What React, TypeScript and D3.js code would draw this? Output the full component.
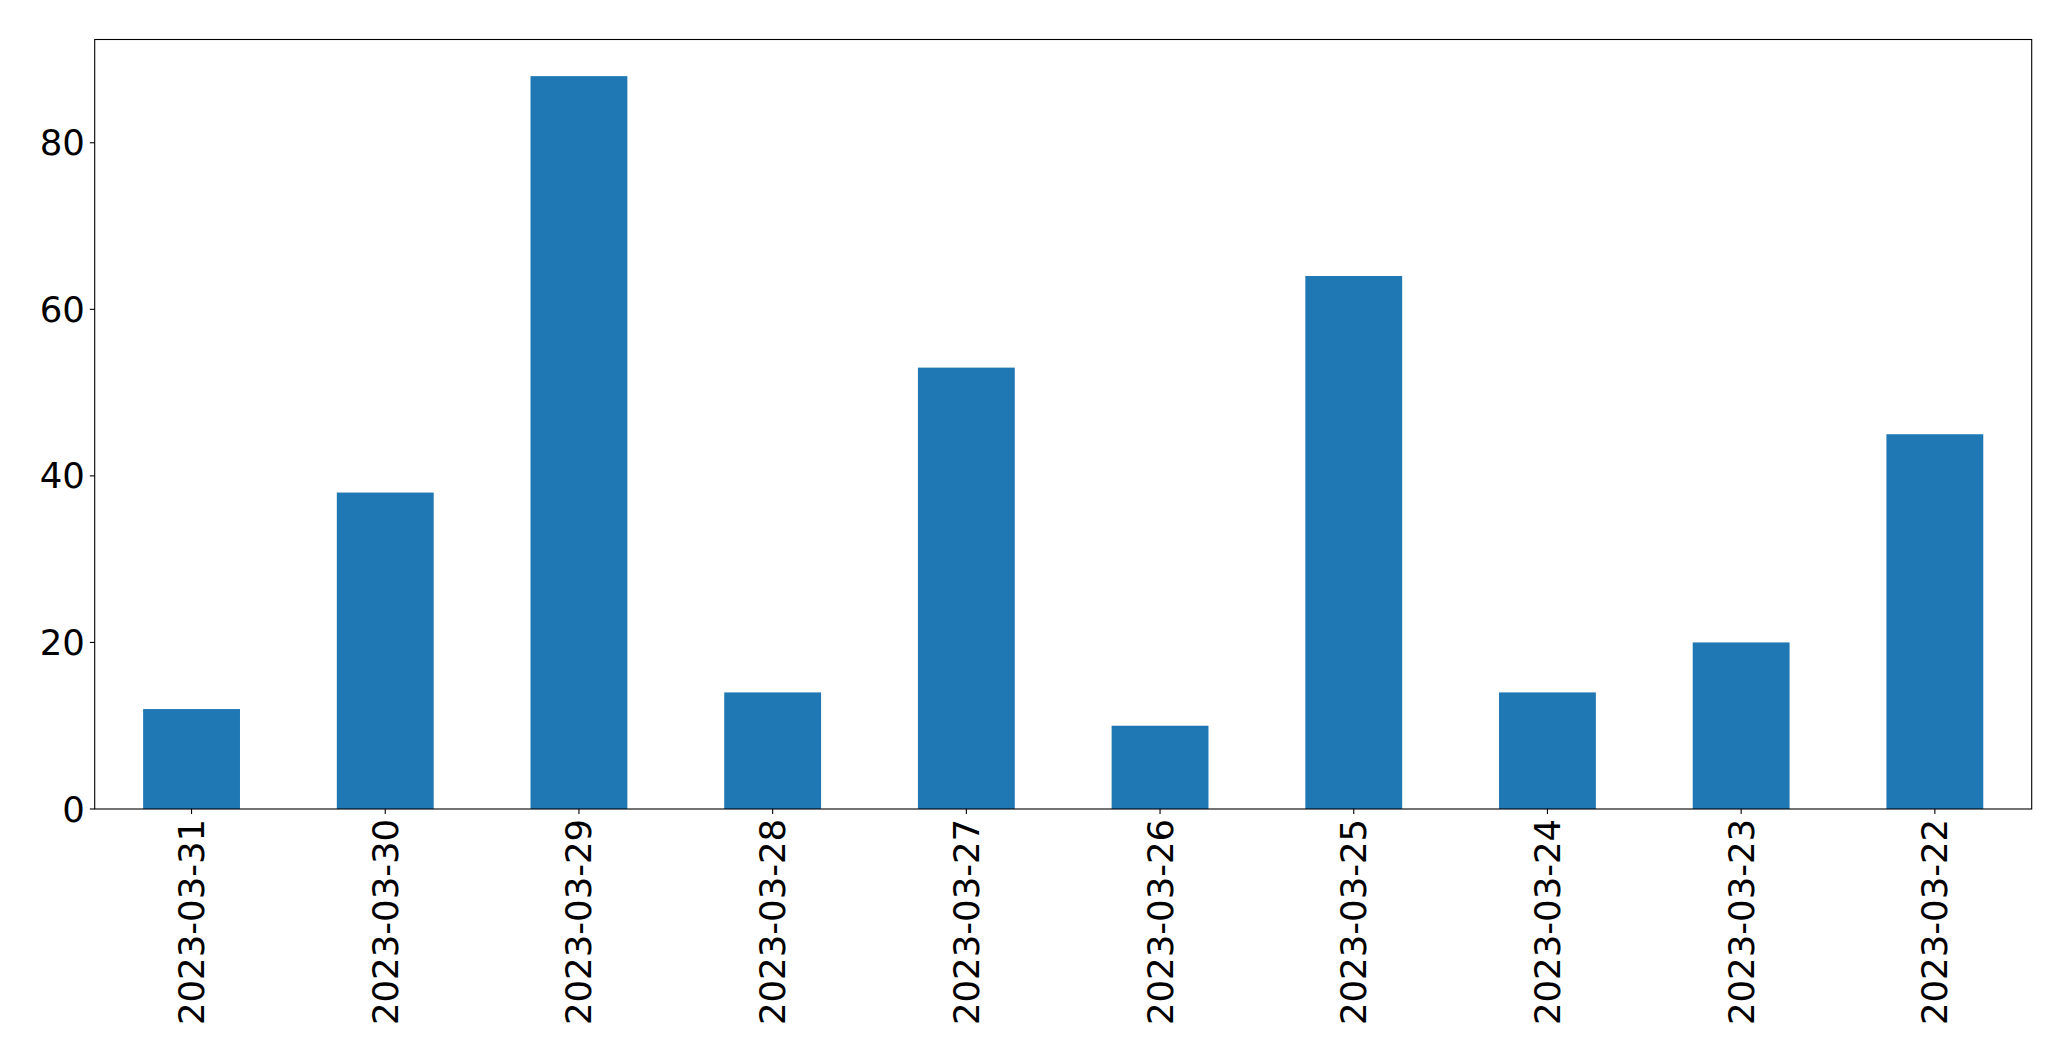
import React from "react";
import * as d3 from "d3";

const categories = ["2023-03-31", "2023-03-30", "2023-03-29", "2023-03-28", "2023-03-27", "2023-03-26", "2023-03-25", "2023-03-24", "2023-03-23", "2023-03-22"];
const values = [12, 38, 88, 14, 53, 10, 64, 14, 20, 45];
const yTicks = [0, 20, 40, 60, 80];

const W = 2071;
const H = 1061;
const M = { left: 94.7, right: 2031.7, top: 39.5, bottom: 809 };
const FONT = "'DejaVu Sans', sans-serif";
const FS = 35.5;

export default function App() {
  const x = d3
    .scaleBand<string>()
    .domain(categories)
    .range([M.left, M.right])
    .paddingInner(0.5)
    .paddingOuter(0.25);
  const ymax = d3.max(values)! * 1.05;
  const y = d3.scaleLinear().domain([0, ymax]).range([M.bottom, M.top]);

  return (
    <div style={{ position: "fixed", left: 0, top: 0 }}>
      <svg width={W} height={H} style={{ display: "block", background: "#fff" }}>
        {values.map((v, i) => (
          <rect
            key={categories[i]}
            x={x(categories[i])}
            y={y(v)}
            width={x.bandwidth()}
            height={y(0) - y(v)}
            fill="#1f77b4"
          />
        ))}
        <rect
          x={M.left}
          y={M.top}
          width={M.right - M.left}
          height={M.bottom - M.top}
          fill="none"
          stroke="#000"
          strokeWidth={1.1}
        />
        {yTicks.map((t) => (
          <g key={t}>
            <line x1={M.left - 4.9} x2={M.left} y1={y(t)} y2={y(t)} stroke="#000" strokeWidth={1.1} />
            <text
              x={M.left - 9.8}
              y={y(t)}
              textAnchor="end"
              dominantBaseline="central"
              fontFamily={FONT}
              fontSize={FS}
              fill="#000"
            >
              {t}
            </text>
          </g>
        ))}
        {categories.map((c) => {
          const cx = x(c)! + x.bandwidth() / 2;
          return (
            <g key={c}>
              <line x1={cx} x2={cx} y1={M.bottom} y2={M.bottom + 4.9} stroke="#000" strokeWidth={1.1} />
              <text
                transform={`translate(${cx},${M.bottom + 9.8}) rotate(-90)`}
                textAnchor="end"
                dominantBaseline="central"
                fontFamily={FONT}
                fontSize={FS}
                fill="#000"
              >
                {c}
              </text>
            </g>
          );
        })}
      </svg>
    </div>
  );
}
